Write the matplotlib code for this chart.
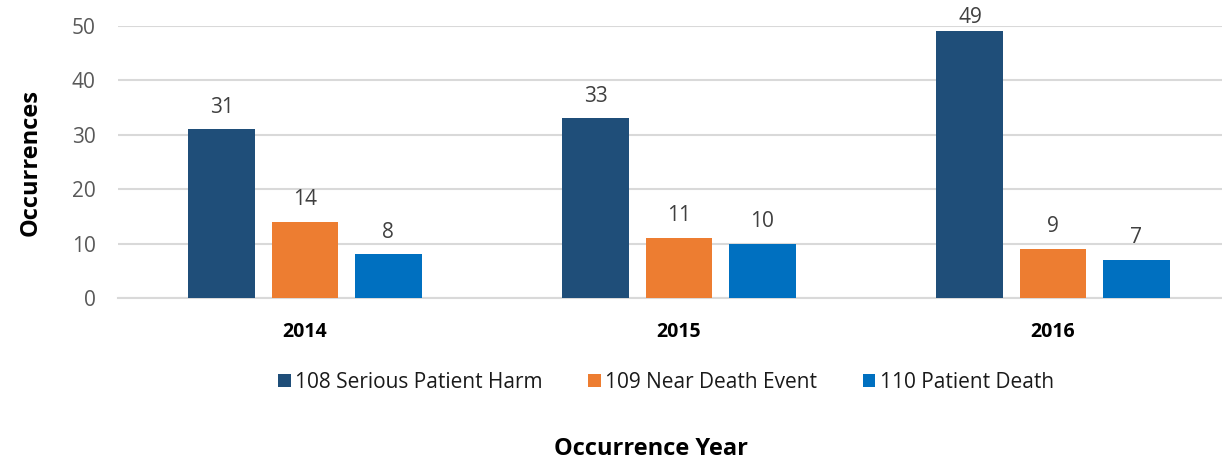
import matplotlib
matplotlib.use("Agg")
import matplotlib.pyplot as plt
import numpy as np

plt.rcParams['font.family'] = ['Open Sans', 'DejaVu Sans']

years = ["2014", "2015", "2016"]
series_names = ["108 Serious Patient Harm", "109 Near Death Event", "110 Patient Death"]
serious_harm = [31, 33, 49]
near_death = [14, 11, 9]
patient_death = [8, 10, 7]
colors = ["#1F4E79", "#ED7D31", "#0070C0"]

fig = plt.figure(figsize=(12.22, 4.61), dpi=100)
ax = fig.add_axes([118/1222, 1-298/461, 1-118/1222, (298-26)/461])

ymax = 50
x = np.arange(len(years))
width = 0.179
step = 0.222
data = [serious_harm, near_death, patient_death]
for i, (vals, name, c) in enumerate(zip(data, series_names, colors)):
    pos = x + (i - 1) * step
    bars = ax.bar(pos, vals, width, color=c, label=name, zorder=3)
    for b, v in zip(bars, vals):
        off = 12 if v < 0.9 * ymax else 6
        ax.annotate(str(v), (b.get_x() + b.get_width()/2, v), xytext=(0, off),
                    textcoords="offset points", ha="center", va="baseline",
                    fontsize=15, color="#404040", clip_on=False)

ax.set_xlim(-0.5, 2.5 - 18/374)
ax.set_ylim(0, ymax)
ax.set_yticks([0, 10, 20, 30, 40, 50])
ax.yaxis.grid(True, color="#d9d9d9", linewidth=1.5, zorder=0)
ax.set_axisbelow(True)
for s in ["top", "right", "left"]:
    ax.spines[s].set_visible(False)
ax.spines["bottom"].set_color("#d9d9d9")
ax.spines["bottom"].set_linewidth(1.5)
ax.tick_params(axis="y", length=0, labelsize=15, labelcolor="#595959", pad=16)
ax.tick_params(axis="x", length=0, pad=17)
ax.set_xticks(x)
ax.set_xticklabels(years, fontsize=14, fontweight="bold", color="black")

ax.set_ylabel("Occurrences", fontsize=17, fontweight="bold", labelpad=21)

leg = fig.legend(loc="center", bbox_to_anchor=(666/1222, 1-382/461), ncol=3,
                 frameon=False, fontsize=15, handlelength=0.6, handleheight=0.6,
                 handletextpad=0.2, columnspacing=2.2)
for t in leg.get_texts():
    t.set_color("#1a1a1a")

fig.text(651/1222, 1-449/461, "Occurrence Year", ha="center", va="center",
         fontsize=17, fontweight="bold")

fig.savefig("out.png", dpi=100)
